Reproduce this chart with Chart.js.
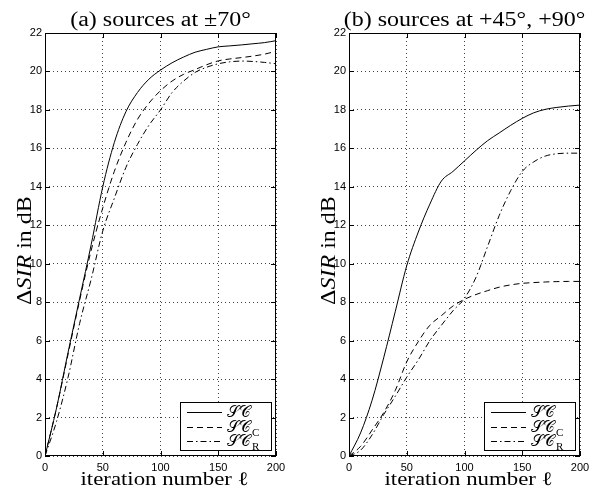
<!DOCTYPE html>
<html>
<head>
<meta charset="utf-8">
<script src="https://cdn.jsdelivr.net/npm/chart.js@4.4.1/dist/chart.umd.min.js"></script>
<style>
body{margin:0;background:#fff;}
#wrap{position:relative;width:589px;height:488px;}
.box{position:absolute;top:0;height:488px;}
</style>
</head>
<body>
<div id="wrap">
  <div class="box" style="left:0;width:295px"><canvas id="chartA"></canvas></div>
  <div class="box" style="left:295px;width:294px"><canvas id="chartB"></canvas></div>
</div>
<script>
// iteration numbers (x) shared by all curves
var iterations = [0,10,20,30,40,50,60,70,80,90,100,110,120,130,140,150,160,170,180,190,200];

// (a) sources at +-70 deg
var scA  = [0,2.5,5.4,8.2,11.0,14.0,16.3,17.9,18.9,19.6,20.07,20.45,20.75,21.0,21.15,21.28,21.33,21.38,21.44,21.5,21.6];
var sccA = [0,2.5,5.3,8.1,10.7,12.9,14.8,16.3,17.5,18.35,19.0,19.5,19.85,20.1,20.35,20.55,20.65,20.72,20.8,20.9,21.05];
var scrA = [0,1.8,4.1,6.9,9.2,11.7,13.4,15.0,16.2,17.2,18.0,18.9,19.5,19.95,20.22,20.4,20.5,20.54,20.52,20.47,20.4];

// (b) sources at +45, +90 deg
var scB  = [0,1.2,2.9,5.1,7.5,9.9,11.65,13.1,14.3,14.8,15.35,15.9,16.4,16.8,17.2,17.56,17.85,18.03,18.13,18.2,18.25];
var sccB = [0,0.5,1.35,2.25,3.4,4.9,5.95,6.8,7.3,7.8,8.15,8.4,8.6,8.78,8.9,8.98,9.02,9.05,9.07,9.08,9.08];
var scrB = [0,0.3,1.1,2.15,3.1,4.1,5.0,6.0,6.8,7.55,8.2,9.3,10.9,12.5,13.8,14.8,15.3,15.6,15.72,15.75,15.75];

var xTicks = [0,50,100,150,200];
var yTicks = [0,2,4,6,8,10,12,14,16,18,20,22];

var serif = "'Liberation Serif', 'DejaVu Serif', serif";
var stretch = 1.2;

function pts(ys){
    return iterations.map(function(x, i){ return {x: x, y: ys[i]}; });
}

// text drawn wider than the font, like in the original figure
function wideText(ctx, text, x, y, font, align){
    ctx.save();
    ctx.font = font;
    var w = ctx.measureText(text).width * stretch;
    var x0 = align === 'center' ? x - w / 2 : x;
    ctx.translate(x0, y);
    ctx.scale(stretch, 1);
    ctx.textAlign = 'left';
    ctx.textBaseline = 'alphabetic';
    ctx.fillStyle = '#000';
    ctx.fillText(text, 0, 0);
    ctx.restore();
    return w;
}

var matlabLook = {
    id: 'matlabLook',
    afterDraw: function(chart){
        var ctx = chart.ctx;
        var a = chart.chartArea;
        var xs = chart.scales.x, ys = chart.scales.y;
        var cfg = chart.options.plugins.matlabLook;

        // box + inward ticks
        ctx.save();
        ctx.strokeStyle = '#000';
        ctx.lineWidth = 1;
        ctx.strokeRect(Math.round(a.left) + 0.5, Math.round(a.top) + 0.5, Math.round(a.width) - 1, Math.round(a.height) - 1);
        ctx.beginPath();
        xTicks.forEach(function(v){
            var px = Math.round(xs.getPixelForValue(v)) + 0.5;
            ctx.moveTo(px, a.bottom); ctx.lineTo(px, a.bottom - 5);
            ctx.moveTo(px, a.top); ctx.lineTo(px, a.top + 5);
        });
        yTicks.forEach(function(v){
            var py = Math.round(ys.getPixelForValue(v)) + 0.5;
            ctx.moveTo(a.left, py); ctx.lineTo(a.left + 5, py);
            ctx.moveTo(a.right, py); ctx.lineTo(a.right - 5, py);
        });
        ctx.stroke();
        ctx.restore();

        var cx = (a.left + a.right) / 2;

        // title
        wideText(ctx, cfg.title, cx, 26, '20px ' + serif, 'center');

        // x label
        wideText(ctx, 'iteration number \u2113', cx + 4, 485, '19px ' + serif, 'center');

        // y label:  Delta SIR in dB
        ctx.save();
        ctx.translate(a.left - 14, (a.top + a.bottom) / 2 + 6);
        ctx.rotate(-Math.PI / 2);
        var runs = [['\u0394', '20px '], ['SIR', 'italic 20px '], [' in dB', '20px ']];
        var total = 0;
        runs.forEach(function(r){ ctx.font = r[1] + serif; total += ctx.measureText(r[0]).width * stretch; });
        var pos = -total / 2;
        runs.forEach(function(r){ pos += wideText(ctx, r[0], pos, 0, r[1] + serif, 'left'); });
        ctx.restore();

        // legend
        var bw = 91, bh = 48;
        var bx = Math.round(a.right) - 5 - bw, by = Math.round(a.bottom) - 6 - bh;
        ctx.save();
        ctx.fillStyle = '#fff';
        ctx.fillRect(bx, by, bw, bh);
        ctx.strokeStyle = '#000';
        ctx.lineWidth = 1;
        ctx.strokeRect(bx + 0.5, by + 0.5, bw, bh);
        var subs = ['', 'C', 'R'];
        chart.data.datasets.forEach(function(ds, i){
            var ry = by + 10 + i * 14.5;
            ctx.beginPath();
            ctx.setLineDash(ds.borderDash || []);
            ctx.moveTo(bx + 7, Math.round(ry) + 0.5);
            ctx.lineTo(bx + 42, Math.round(ry) + 0.5);
            ctx.stroke();
            ctx.setLineDash([]);
            ctx.fillStyle = '#000';
            ctx.font = '16px ' + serif;
            ctx.textBaseline = 'alphabetic';
            ctx.textAlign = 'left';
            ctx.fillText('\uD835\uDCAE\uD835\uDC9E', bx + 47, ry + 5);
            var w = ctx.measureText('\uD835\uDCAE\uD835\uDC9E').width;
            if (subs[i]) {
                ctx.font = '11px ' + serif;
                ctx.fillText(subs[i], bx + 47 + w + 1, ry + 9);
            }
        });
        ctx.restore();
    }
};

function makeChart(id, sc, scc, scr, title, axisWidth, padRight){
    return new Chart(document.getElementById(id), {
        type: 'line',
        data: {
            datasets: [
                {label: 'SC', data: pts(sc), borderColor: '#000', borderWidth: 1, pointRadius: 0, cubicInterpolationMode: 'monotone'},
                {label: 'SC_C', data: pts(scc), borderColor: '#000', borderWidth: 1, pointRadius: 0, borderDash: [6, 4], cubicInterpolationMode: 'monotone'},
                {label: 'SC_R', data: pts(scr), borderColor: '#000', borderWidth: 1, pointRadius: 0, borderDash: [6, 3, 1.5, 3], cubicInterpolationMode: 'monotone'}
            ]
        },
        options: {
            animation: false,
            responsive: true,
            maintainAspectRatio: false,
            layout: {padding: {left: 0, right: padRight, top: 33, bottom: 0}},
            plugins: {
                legend: {display: false},
                tooltip: {enabled: false},
                matlabLook: {title: title}
            },
            scales: {
                x: {
                    type: 'linear', min: 0, max: 200,
                    afterBuildTicks: function(s){ s.ticks = xTicks.map(function(v){ return {value: v}; }); },
                    grid: {color: '#444', lineWidth: 1, drawTicks: false},
                    border: {display: false, dash: [1, 3]},
                    ticks: {font: {family: 'Liberation Sans', size: 11}, color: '#000', padding: 5, maxRotation: 0},
                    afterFit: function(s){ s.height = 32; s.paddingLeft = 0; s.paddingRight = 0; }
                },
                y: {
                    min: 0, max: 22,
                    afterBuildTicks: function(s){ s.ticks = yTicks.map(function(v){ return {value: v}; }); },
                    grid: {color: '#444', lineWidth: 1, drawTicks: false},
                    border: {display: false, dash: [1, 3]},
                    ticks: {font: {family: 'Liberation Sans', size: 11}, color: '#000', padding: 3},
                    afterFit: function(s){ s.width = axisWidth; s.paddingTop = 0; s.paddingBottom = 0; }
                }
            }
        },
        plugins: [matlabLook]
    });
}

makeChart('chartA', scA, sccA, scrA, '(a) sources at \u00B170\u00B0', 45, 19);
makeChart('chartB', scB, sccB, scrB, '(b) sources at +45\u00B0, +90\u00B0', 54, 9);
</script>
</body>
</html>
